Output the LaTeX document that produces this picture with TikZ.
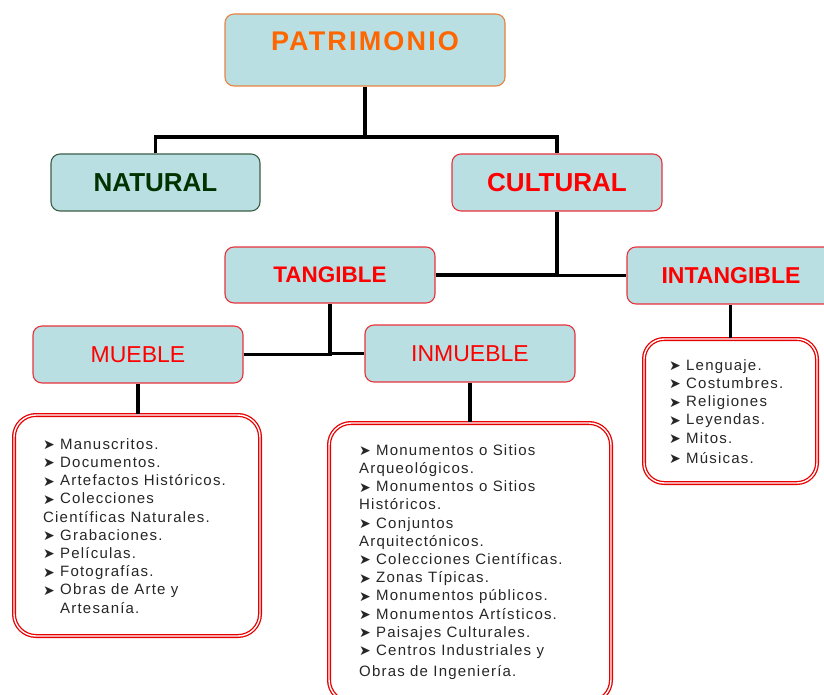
\documentclass[tikz,border=0pt]{standalone}
\usepackage{fontspec}
\setmainfont{Liberation Sans}
\newfontfamily\dejavu{DejaVu Sans}
\definecolor{boxfill}{RGB}{185,223,227}
\definecolor{orangeline}{RGB}{232,130,62}
\definecolor{orangetext}{RGB}{255,102,0}
\definecolor{greenline}{RGB}{60,95,70}
\definecolor{greentext}{RGB}{0,51,0}
\definecolor{redline}{RGB}{232,50,60}
\definecolor{redtext}{RGB}{255,0,0}
\definecolor{listred}{RGB}{230,0,0}
\newcommand{\bl}{\makebox[17pt][l]{\smash{\raisebox{-0.5pt}{\dejavu\fontsize{14}{14}\selectfont ➤}}}}
\begin{document}
\begin{tikzpicture}[x=1pt,y=-1pt,
  box/.style={draw, fill=boxfill, rounded corners=9pt, line width=1.1pt,
    minimum width=210pt, minimum height=57pt, inner sep=0pt},
  redbox/.style={box, draw=redline, text=redtext},
  bigtitle/.style={font=\fontsize{26}{26}\selectfont\bfseries},
  midtitle/.style={font=\fontsize{22.5}{22.5}\selectfont\bfseries},
  plaintitle/.style={font=\fontsize{23}{23}\selectfont},
  link/.style={line width=3.4pt, black},
  listbox/.style={draw=listred, double=white, double distance=1.4pt,
    line width=1.3pt, rounded corners=22pt, inner sep=0pt},
  listtext/.style={anchor=north west, inner sep=0pt, align=left, text=black!85,
    font=\fontsize{15}{18.2}\selectfont\addfontfeature{LetterSpace=8}}]
\useasboundingbox (0,0) rectangle (824,695);

% top level
\node[box, draw=orangeline, minimum width=280pt, minimum height=72pt] (patr) at (365,50) {};
\node[text=orangetext, font=\fontsize{27}{27}\selectfont\bfseries\addfontfeature{LetterSpace=8}] (patrt) at (365,41) {PATRIMONIO};

\node[box, draw=greenline, text=greentext, bigtitle, minimum width=209pt] (nat) at (155.5,182.5) {NATURAL};
\node[redbox, bigtitle] (cult) at (557,182.5) {CULTURAL};

\node[redbox, midtitle, minimum height=56pt] (tang) at (330,275) {TANGIBLE};
\node[redbox, midtitle, font=\fontsize{23}{23}\selectfont\bfseries, minimum width=208pt] (intang) at (731,275.5) {INTANGIBLE};

\node[redbox, plaintitle] (mueb) at (138,354.5) {MUEBLE};
\node[redbox, plaintitle] (inmu) at (470,353.5) {INMUEBLE};

% list boxes
\node[listbox, minimum width=246pt, minimum height=221pt] (lmueb) at (137,525.5) {};
\node[listbox, minimum width=282pt, minimum height=279pt] (linmu) at (470,562.5) {};
\node[listbox, rounded corners=20pt, minimum width=173pt, minimum height=144pt] (lintang) at (730.5,411) {};

\node[listtext] (tmueb) at (43,437) {\rule{0pt}{12pt}\bl Manuscritos.\\
\bl Documentos.\\
\bl Artefactos Históricos.\\
\bl Colecciones\\
Científicas Naturales.\\
\bl Grabaciones.\\
\bl Películas.\\
\bl Fotografías.\\
\bl Obras de Arte y\\
\hspace*{17pt}Artesanía.};

\node[listtext] (tinmu) at (359,443) {\rule{0pt}{12pt}\bl Monumentos o Sitios\\
Arqueológicos.\\
\bl Monumentos o Sitios\\
Históricos.\\
\bl Conjuntos\\
Arquitectónicos.\\
\bl Colecciones Científicas.\\
\bl Zonas Típicas.\\
\bl Monumentos públicos.\\
\bl Monumentos Artísticos.\\
\bl Paisajes Culturales.\\
\bl Centros Industriales y\\[3pt]
Obras de Ingeniería.};

\node[listtext] (tintang) at (669,358) {\rule{0pt}{12pt}\bl Lenguaje.\\
\bl Costumbres.\\
\bl Religiones\\
\bl Leyendas.\\
\bl Mitos.\\[2pt]
\bl Músicas.};

% connectors
\coordinate (j1) at (365,137);
\draw[link] (patr.south) -- (j1);
\draw[link] (nat.north) |- (j1) -| (cult.north);
\draw[link] (cult.south) |- (intang.west);
\draw[link] (tang.east) -- (tang.east -| cult.south);
\draw[link] (mueb.east) -| (tang.south);
\draw[link] (tang.south |- inmu.west) -- (inmu.west);
\draw[link] (mueb.south) -- (mueb.south |- lmueb.north);
\draw[link] (inmu.south) -- (linmu.north);
\draw[link] (lintang.north) -- (lintang.north |- intang.south);
\end{tikzpicture}
\end{document}
